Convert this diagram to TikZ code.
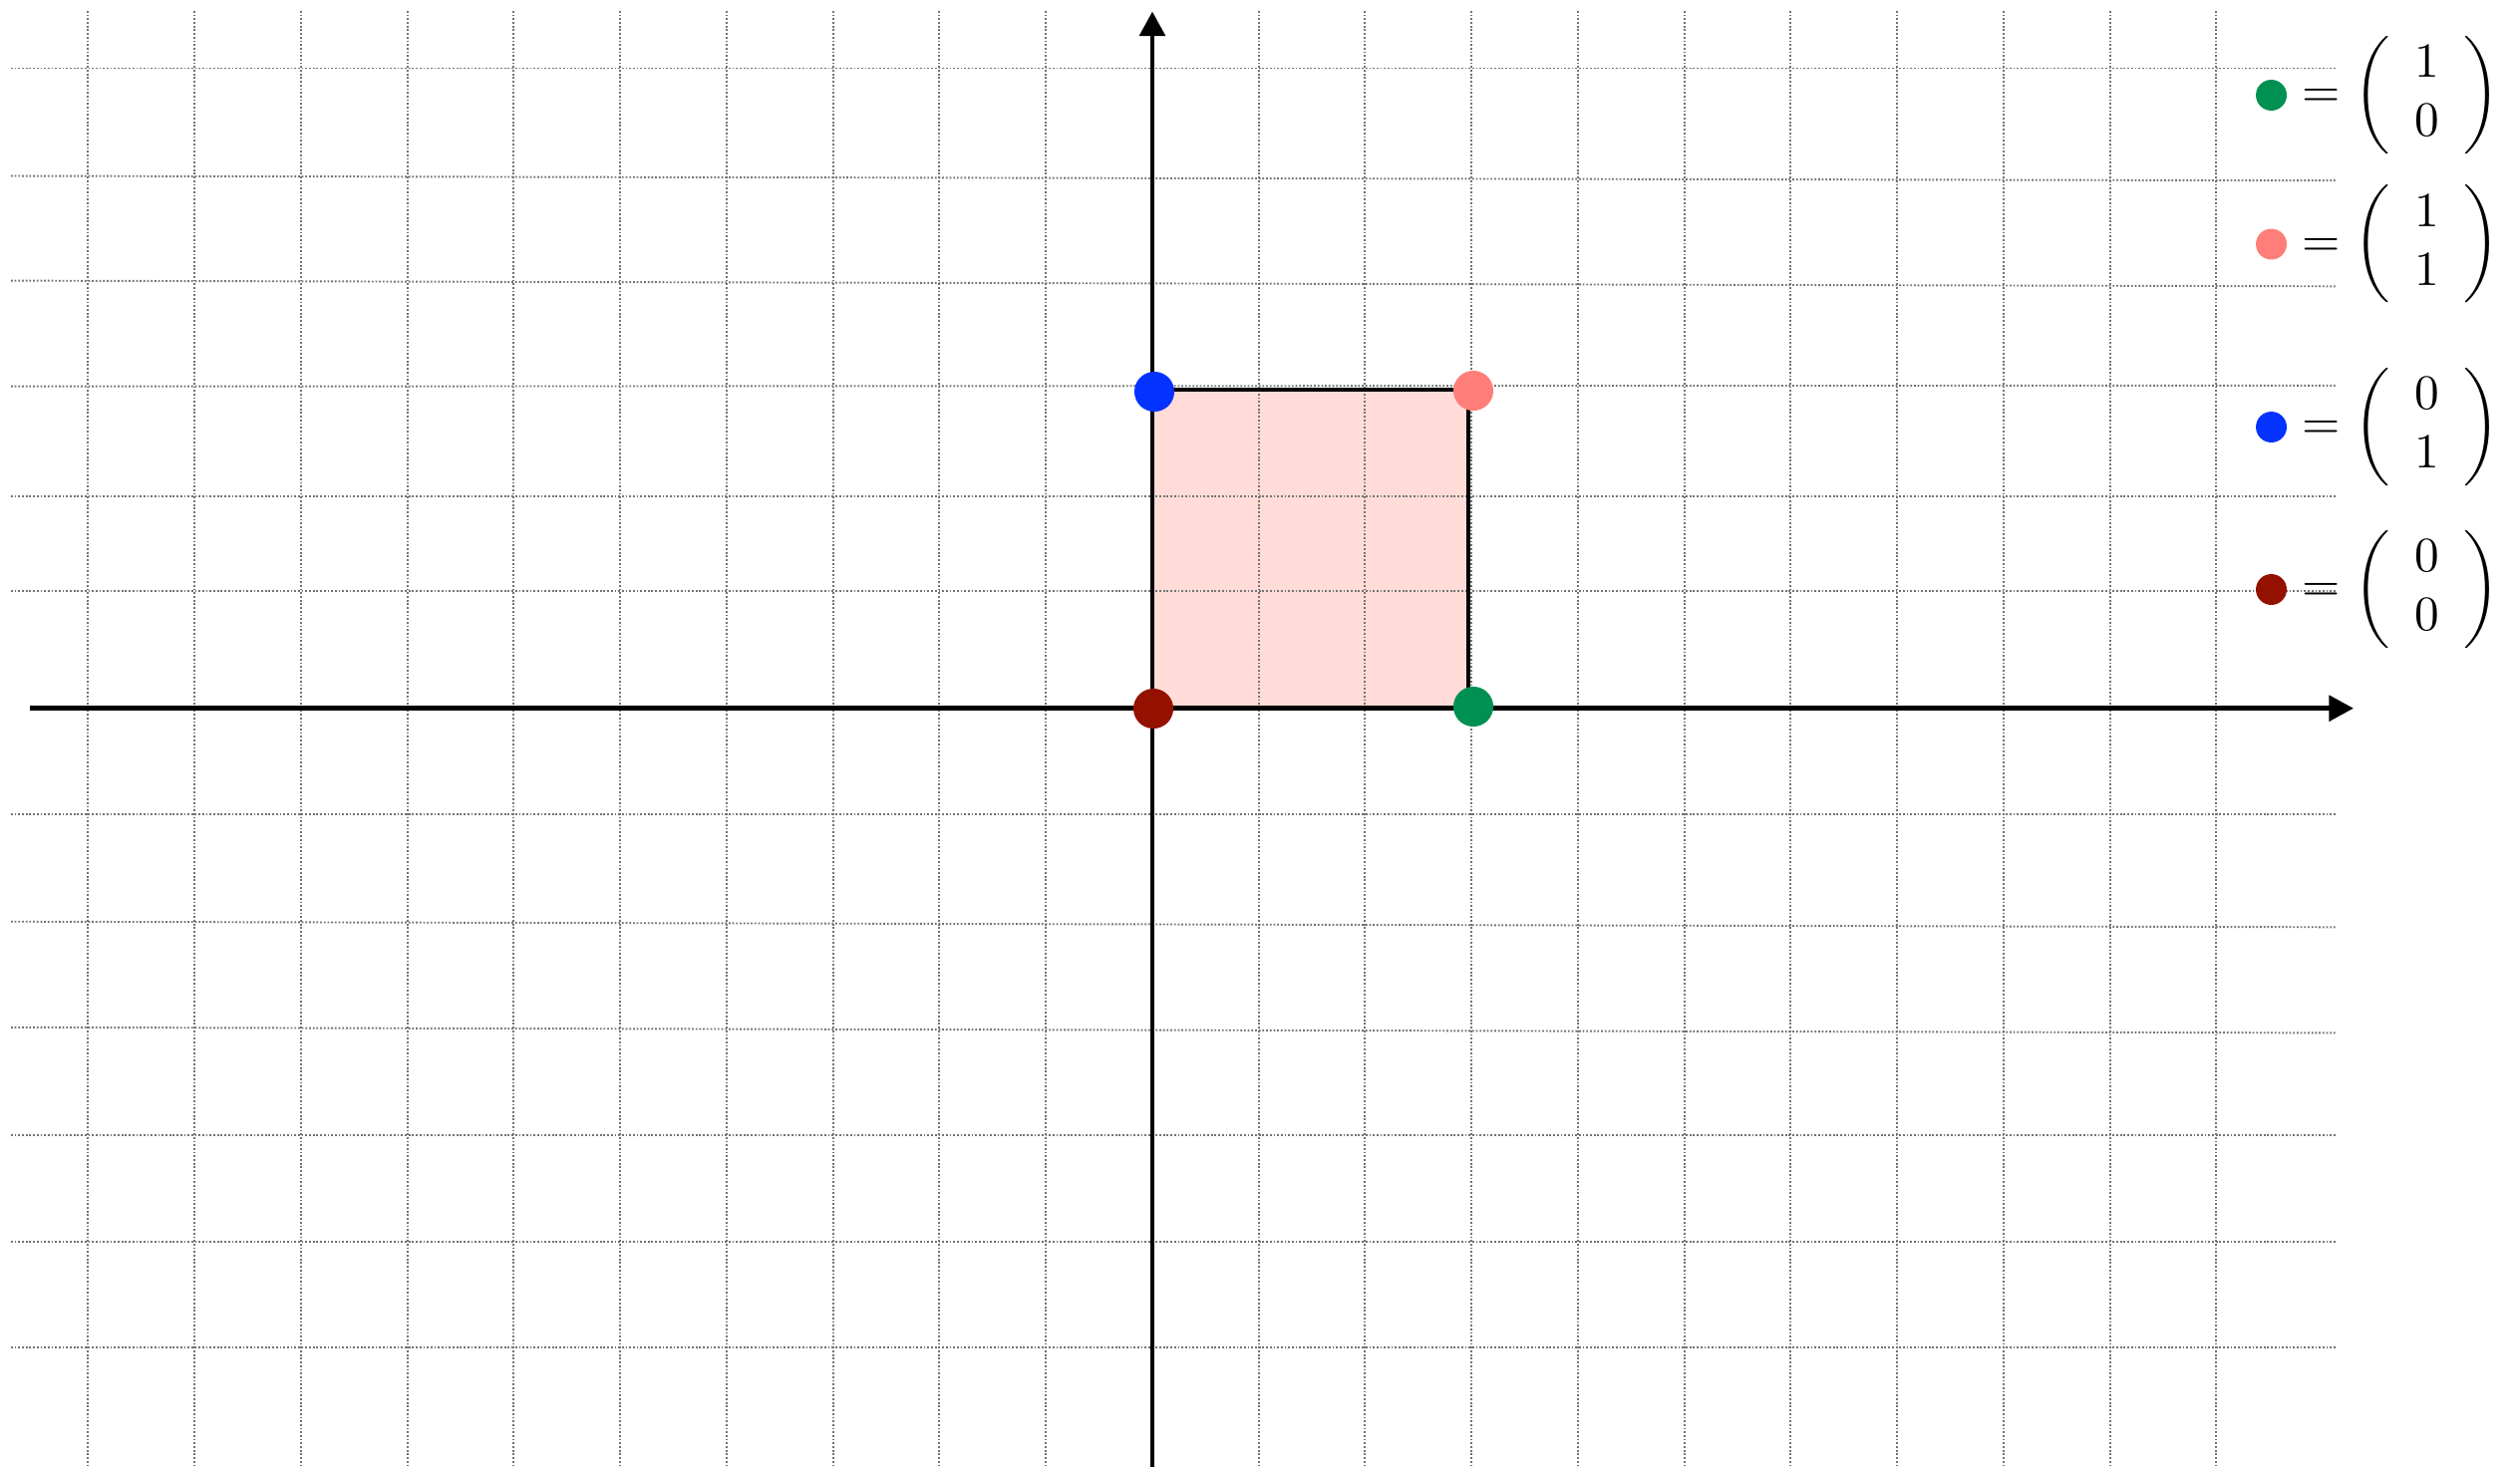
\documentclass[tikz,border=0pt]{standalone}
\usepackage{graphicx}
\usetikzlibrary{arrows.meta}
\definecolor{moss}{HTML}{009051}
\definecolor{salmon}{HTML}{FF7E79}
\definecolor{blueberry}{HTML}{0433FF}
\definecolor{cayenne}{HTML}{941100}
\definecolor{sqfill}{RGB}{255,220,215}
\begin{document}
\begin{tikzpicture}[x=0.01cm,y=-0.01cm,
  gridline/.style={black!55,line width=0.55pt,dash pattern=on 0.5pt off 0.55pt},
  axisline/.style={line width=1.4pt,-{Triangle[length=7pt,width=7.2pt]}},
  sqedge/.style={line width=1.25pt},
  bigdot/.style={circle,fill=#1,draw=none,inner sep=0pt,minimum size=11.4pt},
  legdot/.style={circle,fill=#1,draw=none,inner sep=0pt,minimum size=8.8pt},
  legtext/.style={anchor=west,inner sep=0pt}]
\useasboundingbox (0,0) rectangle (2528,1472);
% square fill
\coordinate (O) at (1156,710.5);
\coordinate (A) at (1473,710.5);
\coordinate (B) at (1473,391);
\coordinate (C) at (1156,391);
\fill[sqfill] (O) rectangle (B);
% grid
\foreach \k in {0,...,9,11,12,...,20}
  \draw[gridline] ({88.3+106.75*\k},11) -- ({88.3+106.75*\k},1472);
\foreach \a/\b in {68.5/68.5,176.5/181.2,281.6/287.3,387.7/386.8,497.6/497.6,593.3/593.3,
  816.8/816.8,924.7/930.3,1030.8/1036.4,1138.7/1138.7,1245.8/1245.8,1351.9/1351.9}
  \draw[gridline] (11,\a) -- (2343,\b);
% axes
\coordinate (xs) at (30,710.7);
\coordinate (xe) at (2361,710.7);
\coordinate (ys) at (1156,1472);
\coordinate (ye) at (1156,11.5);
\draw[axisline] (xs) -- (xe);
\draw[axisline] (ys) -- (ye);
% square edges
\draw[sqedge] (O) -- (A) -- (B) -- (C) -- cycle;
% corner dots
\node[bigdot=cayenne] (d00) at (1157,711) {};
\node[bigdot=moss] (d10) at (1478,709) {};
\node[bigdot=blueberry] (d01) at (1158,393) {};
\node[bigdot=salmon] (d11) at (1478,392) {};
% legend
\node[legdot=moss] (l10) at (2278.5,95.5) {};
\node[legtext] (m10) at (2309,95.5) {\scalebox{1.4}{$=\left(\begin{array}{c}1\\0\end{array}\right)$}};
\node[legdot=salmon] (l11) at (2278.5,245) {};
\node[legtext] (m11) at (2309,245) {\scalebox{1.4}{$=\left(\begin{array}{c}1\\1\end{array}\right)$}};
\node[legdot=blueberry] (l01) at (2278.5,428.5) {};
\node[legtext] (m01) at (2309,428.5) {\scalebox{1.4}{$=\left(\begin{array}{c}0\\1\end{array}\right)$}};
\node[legdot=cayenne] (l00) at (2278.5,591.5) {};
\node[legtext] (m00) at (2309,591.5) {\scalebox{1.4}{$=\left(\begin{array}{c}0\\0\end{array}\right)$}};
\end{tikzpicture}
\end{document}
